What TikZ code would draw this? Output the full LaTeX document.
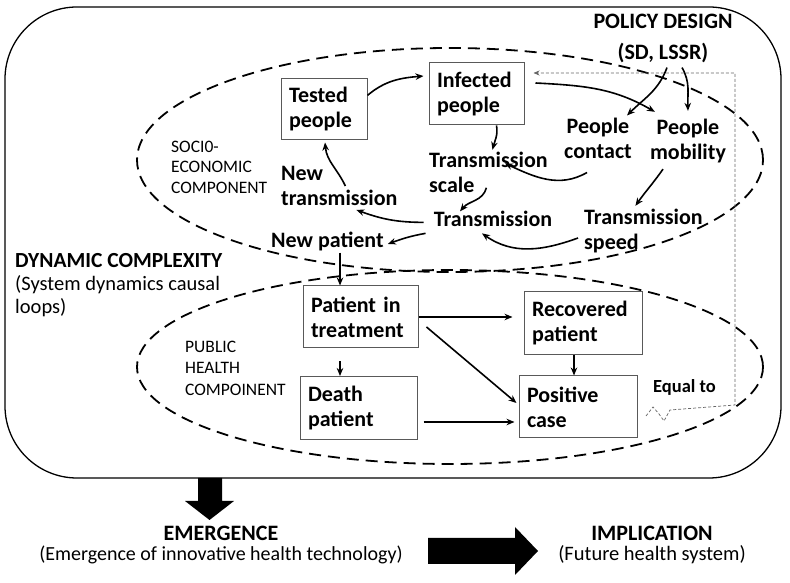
\documentclass[tikz,border=0pt]{standalone}
\usepackage{fontspec}
\setmainfont{Carlito}
\usetikzlibrary{arrows.meta,calc}
\begin{document}
\begin{tikzpicture}[x=1pt,y=1pt,
  arr/.style={line width=1.6pt,-{Stealth[length=8pt,width=6.5pt]}},
  boxn/.style={draw=black!65,line width=1pt,align=left,inner xsep=8pt,inner ysep=0pt,font=\bfseries\fontsize{22}{25}\selectfont},
  lbl/.style={font=\bfseries\fontsize{22}{25}\selectfont,inner sep=1pt},
  comp/.style={dash pattern=on 12pt off 7pt,line width=1.8pt},
  small/.style={font=\fontsize{17.5}{20.5}\selectfont,align=left,inner sep=0pt,anchor=north west},
  feed/.style={densely dashed,line width=0.7pt,black!60,-{Stealth[length=6pt,width=5pt]}}]
\useasboundingbox (0,0) rectangle (790,583);
\fill[white] (0,0) rectangle (790,583);

% outer frame and components
\draw[line width=1.3pt,rounded corners=72pt] (5,105) rectangle (781,576);
\draw[comp] (450,423) ellipse [x radius=313, y radius=112];
\draw[comp] (450,216) ellipse [x radius=313, y radius=97];

% boxes
\node[boxn,text width=70pt,minimum height=61pt] (tested) at (324,473.5) {Tested\\people};
\node[boxn,text width=79pt,minimum height=62pt] (infected) at (476.5,489) {Infected\\people};
\node[boxn,text width=99pt,minimum height=62pt] (treat) at (360.5,266) {Patient in\\treatment};
\node[boxn,text width=102pt,minimum height=63pt] (recov) at (583,259.5) {Recovered\\patient};
\node[boxn,text width=101pt,minimum height=63pt] (death) at (358.5,175) {Death\\patient};
\node[boxn,text width=102pt,minimum height=62pt] (positive) at (578,176) {Positive\\case};

% free labels
\node[lbl,align=center] (contact) at (598,445) {People\\contact};
\node[lbl,align=center] (mobility) at (688,442) {People\\mobility};
\node[lbl,align=left,anchor=west] (tscale) at (428,410.7) {Transmission\\scale};
\node[lbl,anchor=base] (trans) at (493,356) {Transmission};
\node[lbl,align=left,anchor=west] (tspeed) at (583,352) {Transmission\\speed};
\node[lbl,align=left,anchor=west] (newtrans) at (280,397) {New\\transmission};
\node[lbl,anchor=base west] (newpat) at (270,335) {New patient};
\node[lbl,align=center,font=\bfseries\fontsize{22}{31}\selectfont] (policy) at (663,545) {POLICY DESIGN\\(SD, LSSR)};

\node[anchor=north west,align=left,inner sep=0pt,font=\fontsize{20.5}{23}\selectfont] (dyn) at (15,330) {{\bfseries\fontsize{21.5}{23}\selectfont DYNAMIC COMPLEXITY}\\(System dynamics causal\\loops)};
\node[small] (socio) at (171,442.3) {SOCI0-\\ECONOMIC\\COMPONENT};
\node[small,font=\fontsize{17.5}{21.5}\selectfont] (public) at (185,242.3) {PUBLIC\\HEALTH\\COMPOINENT};
\node[anchor=base west,inner sep=0pt,font=\bfseries\fontsize{18.5}{20}\selectfont] (equal) at (653,190) {Equal to};

\node[anchor=base,inner sep=0pt,font=\bfseries\fontsize{22}{25}\selectfont] (emerg) at (221,42) {EMERGENCE};
\node[anchor=base,inner sep=0pt,font=\fontsize{20}{25}\selectfont] (emergsub) at (221,22) {(Emergence of innovative health technology)};
\node[anchor=base,inner sep=0pt,font=\bfseries\fontsize{22}{25}\selectfont] (impl) at (652,42) {IMPLICATION};
\node[anchor=base,inner sep=0pt,font=\fontsize{20.5}{25}\selectfont] (implsub) at (652,22) {(Future health system)};

% block arrows
\fill (198,105) -- (198,82) -- (185,82) -- (209.5,63) -- (234,82) -- (222,82) -- (222,105) -- cycle;
\fill (428,45) -- (515,45) -- (515,56) -- (538,32) -- (515,8) -- (515,19) -- (428,19) -- cycle;

% causal loop connectors
\draw[arr] (tested.18) to[out=40,in=185] ($(infected.west)+(-5,18)$);
\draw[arr] ($(infected.east)+(11,11)$) to[out=-3,in=150] ($(mobility.north west)+(6,6)$);
\draw[arr] ($(infected.south)+(20,0)$) to[out=-80,in=75] ($(tscale.north)+(4,1)$);
\draw[arr] ($(policy.south)+(4,-4)$) to[out=-110,in=45] ($(contact.north east)+(-6,1)$);
\draw[arr] ($(policy.south)+(19,-4)$) to[out=-60,in=92] ($(mobility.north)+(0,7)$);
\draw[arr] ($(contact.south)+(-11,-13)$) to[out=-150,in=-25] ($(tscale.east)+(-44,9)$);
\draw[arr] ($(mobility.south)+(-25,-5)$) to[out=-125,in=55] ($(tspeed.north)+(-8,2)$);
\draw[arr] ($(tscale.south)+(-2,6)$) to[out=-105,in=50] ($(trans.north)+(-33,-1)$);
\draw[arr] ($(tspeed.west)+(-5,-7)$) to[out=-160,in=-35] ($(trans.south)+(-11,-5)$);
\draw[arr] ($(trans.west)+(-9,-3)$) to[out=180,in=-20] ($(newtrans.south)+(17,-3)$);
\draw[arr] ($(trans.west)+(-7,-14)$) to[out=190,in=20] ($(newpat.east)+(3,-2)$);
\draw[arr] ($(newtrans.center)+(6,0)$) to[out=115,in=-85] ($(tested.south)+(1,-2)$);

% public health connectors
\coordinate (tx) at ($(treat.north)+(-20.5,0)$);
\draw[arr] (tx |- newpat.south) -- (tx);
\coordinate (tx2) at ($(treat.south)+(-20.5,0)$);
\draw[arr,shorten <=13pt] (tx2) -- (tx2 |- death.north);
\draw[arr,shorten >=11pt] (treat.east) -- (treat.east -| recov.west);
\draw[arr] ($(treat.east)+(8,-10)$) -- ($(positive.west)+(-2,4)$);
\coordinate (rx) at ($(recov.south)+(-9,0)$);
\draw[arr] (rx) -- (rx |- positive.north);
\coordinate (dx) at ($(death.east)+(6,-14)$);
\draw[arr,shorten >=4pt] (dx) -- (dx -| positive.west);

% equal-to feedback
\coordinate (sq) at (646,167);
\draw[feed] (sq) -- ++(7,9) -- ++(6,-7) -- ++(5,-7) -- ++(6,11) -- ++(65,5) |- ($(infected.east)+(9,21)$);
\end{tikzpicture}
\end{document}
